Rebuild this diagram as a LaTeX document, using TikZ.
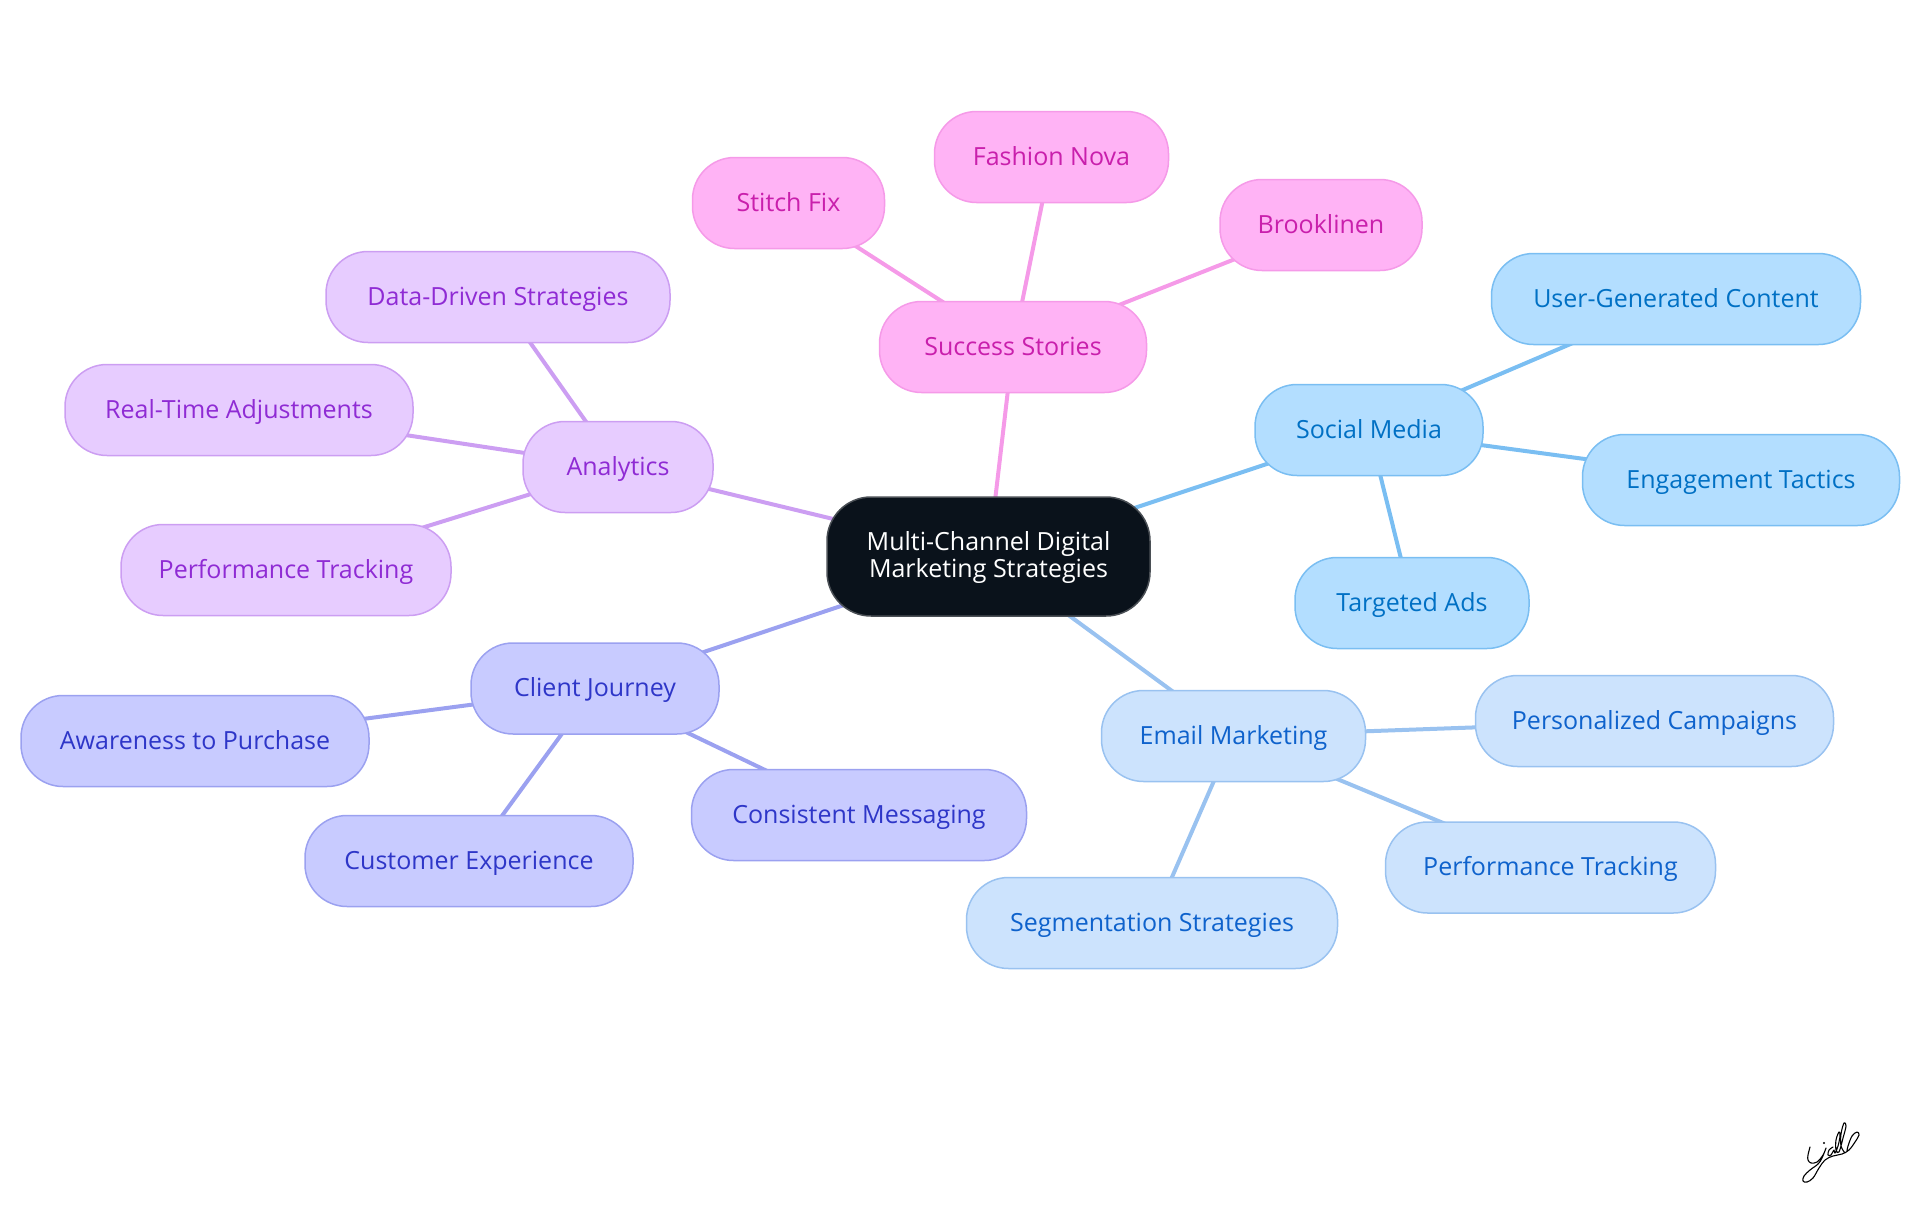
\documentclass[tikz,border=0pt]{standalone}
\usepackage{fontspec}
\setmainfont{Open Sans}
\usetikzlibrary{backgrounds}
\definecolor{rootfill}{HTML}{0A121B}
\definecolor{rootline}{HTML}{4A4F55}
\definecolor{socfill}{HTML}{B3DEFF}
\definecolor{socline}{HTML}{7ABEF2}
\definecolor{soctext}{HTML}{0070C4}
\definecolor{mailfill}{HTML}{CCE3FD}
\definecolor{mailline}{HTML}{99C2F0}
\definecolor{mailtext}{HTML}{0E62CC}
\definecolor{starfill}{HTML}{FFB3F5}
\definecolor{starline}{HTML}{F59AE8}
\definecolor{startext}{HTML}{C91FAC}
\definecolor{datafill}{HTML}{E7CCFF}
\definecolor{dataline}{HTML}{CC9EF2}
\definecolor{datatext}{HTML}{8F2BD4}
\definecolor{jourfill}{HTML}{C8CBFF}
\definecolor{jourline}{HTML}{9BA1F0}
\definecolor{jourtext}{HTML}{2E36C8}
\tikzset{
  topic/.style={rectangle,rounded corners=42pt,minimum height=91pt,inner sep=0pt,line width=1.5pt,text height=18pt,text depth=2pt,font=\fontsize{25}{27}\selectfont},
  soc/.style={topic,draw=socline,fill=socfill,text=soctext},
  mail/.style={topic,draw=mailline,fill=mailfill,text=mailtext},
  star/.style={topic,draw=starline,fill=starfill,text=startext},
  data/.style={topic,draw=dataline,fill=datafill,text=datatext},
  jour/.style={topic,draw=jourline,fill=jourfill,text=jourtext},
  root/.style={topic,text height=47pt,text depth=5pt,rounded corners=44pt,draw=rootline,fill=rootfill,text=white,minimum height=119pt,align=center},
  link/.style={line width=4pt}
}
\begin{document}
\begin{tikzpicture}[x=1pt,y=-1pt]
  \useasboundingbox (0,0) rectangle (1920,1215);

  \node[root,minimum width=323pt] (core) at (988.5,556.5) {Multi-Channel Digital\\Marketing Strategies};

  \node[star,minimum width=267pt] (stories) at (1013,347) {Success Stories};
  \node[star,minimum width=192pt] (stitch) at (788.5,203) {Stitch Fix};
  \node[star,minimum width=234pt] (nova) at (1051.5,157) {Fashion Nova};
  \node[star,minimum width=202pt] (brook) at (1321,225) {Brooklinen};

  \node[soc,minimum width=228pt] (social) at (1369,430) {Social Media};
  \node[soc,minimum width=369pt] (ugc) at (1676,299) {User-Generated Content};
  \node[soc,minimum width=317pt] (engage) at (1741,480) {Engagement Tactics};
  \node[soc,minimum width=234pt] (ads) at (1412,603) {Targeted Ads};

  \node[mail,minimum width=264pt] (email) at (1233.5,736) {Email Marketing};
  \node[mail,minimum width=358pt] (person) at (1654.5,721) {Personalized Campaigns};
  \node[mail,minimum width=330pt] (tracka) at (1550.5,867.5) {Performance Tracking};
  \node[mail,minimum width=371pt] (segment) at (1152,923) {Segmentation Strategies};

  \node[jour,minimum width=248pt] (client) at (595,688.5) {Client Journey};
  \node[jour,minimum width=348pt] (aware) at (195,741) {Awareness to Purchase};
  \node[jour,minimum width=328pt] (custom) at (469,861) {Customer Experience};
  \node[jour,minimum width=335pt] (consist) at (859,815) {Consistent Messaging};

  \node[data,minimum width=190pt] (analytics) at (618,467) {Analytics};
  \node[data,minimum width=344pt] (driven) at (498,297) {Data-Driven Strategies};
  \node[data,minimum width=348pt] (realtime) at (239,410) {Real-Time Adjustments};
  \node[data,minimum width=330pt] (trackb) at (286,570) {Performance Tracking};

  \begin{scope}[on background layer]
    \draw[link,starline] (core.center) -- (stories.center);
    \draw[link,starline] (stories.center) -- (stitch.center);
    \draw[link,starline] (stories.center) -- (nova.center);
    \draw[link,starline] (stories.center) -- (brook.center);
    \draw[link,socline] (core.center) -- (social.center);
    \draw[link,socline] (social.center) -- (ugc.center);
    \draw[link,socline] (social.center) -- (engage.center);
    \draw[link,socline] (social.center) -- (ads.center);
    \draw[link,mailline] (core.center) -- (email.center);
    \draw[link,mailline] (email.center) -- (person.center);
    \draw[link,mailline] (email.center) -- (tracka.center);
    \draw[link,mailline] (email.center) -- (segment.center);
    \draw[link,jourline] (core.center) -- (client.center);
    \draw[link,jourline] (client.center) -- (aware.center);
    \draw[link,jourline] (client.center) -- (custom.center);
    \draw[link,jourline] (client.center) -- (consist.center);
    \draw[link,dataline] (core.center) -- (analytics.center);
    \draw[link,dataline] (analytics.center) -- (driven.center);
    \draw[link,dataline] (analytics.center) -- (realtime.center);
    \draw[link,dataline] (analytics.center) -- (trackb.center);
  \end{scope}

  % signature
  \draw[line width=1.1pt,line join=round,line cap=round]
    plot[smooth,tension=.6] coordinates {(1810,1147) (1808,1155) (1808,1160) (1811,1163) (1817,1162) (1823,1155) (1826,1148)}
    plot[smooth,tension=.6] coordinates {(1826,1148) (1822,1158) (1818,1164) (1810,1170) (1804,1176) (1803,1181) (1807,1182) (1813,1178) (1819,1168) (1825,1160) (1833,1156) (1842,1154) (1849,1150) (1855,1142) (1859,1135) (1857,1132) (1852,1136) (1848,1146) (1847,1151)}
    plot[smooth,tension=.6] coordinates {(1833,1147) (1829,1150) (1828,1155) (1831,1155) (1834,1150) (1835,1153) (1838,1146) (1840,1136) (1839,1132) (1836,1140) (1836,1150) (1839,1152) (1843,1138) (1846,1126) (1844,1123) (1841,1134) (1841,1146) (1845,1153)};
  \fill (1824,1143) circle (1.2pt);
\end{tikzpicture}
\end{document}
